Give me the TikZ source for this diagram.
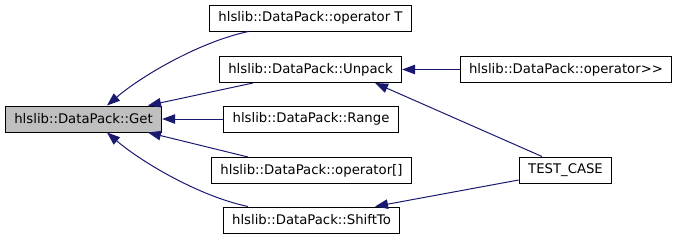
\documentclass[tikz,border=0pt]{standalone}
\usepackage{fontspec}
\setmainfont{DejaVu Sans}
\usepackage{tikz}
\usetikzlibrary{arrows.meta,positioning}
\definecolor{midnightblue}{RGB}{25,25,112}
\definecolor{nodegray}{RGB}{191,191,191}
\tikzset{
  func/.style={
    draw=black,
    fill=white,
    line width=1bp,
    align=center,
    minimum height=26bp,
    inner xsep=9bp,
    font=\fontsize{13.3}{16}\selectfont
  },
  actual/.style={
    func,
    fill=nodegray
  },
  arrow/.style={
    -{Triangle[length=13bp,width=9.5bp]},
    line width=1bp,
    midnightblue
  }
}

\begin{document}
\begin{tikzpicture}[x=1bp,y=-1bp]
\useasboundingbox (0,0) rectangle (676,240);
\node[actual] (get) at (83.5,119) {hlslib::DataPack::Get};
\node[func] (opt) at (310.5,18) {hlslib::DataPack::operator T};
\node[func] (unpack) at (310.5,69.5) {hlslib::DataPack::Unpack};
\node[func] (range) at (311,119) {hlslib::DataPack::Range};
\node[func] (opidx) at (311.5,170.5) {hlslib::DataPack::operator[]};
\node[func] (shift) at (311.5,220) {hlslib::DataPack::ShiftTo};
\node[func] (opshr) at (566,69.5) {hlslib::DataPack::operator>{}>};
\node[func] (test) at (565.5,170) {TEST\_CASE};
\draw[arrow] ([xshift=-62bp]opt.south) .. controls +(-48,10) and +(35,-30) .. ([xshift=23.5bp]get.north);
\draw[arrow] ([xshift=-57.5bp]unpack.south) -- ([xshift=64.5bp]get.north);
\draw[arrow] (range) -- (get);
\draw[arrow] ([xshift=-63.5bp]opidx.north) -- ([xshift=64.5bp]get.south);
\draw[arrow] ([xshift=-63.5bp]shift.north) .. controls +(-48,-10) and +(35,30) .. ([xshift=23.5bp]get.south);
\draw[arrow] (opshr) -- (unpack);
\draw[arrow] ([xshift=-23.5bp]test.north) -- ([xshift=64.5bp]unpack.south);
\draw[arrow] ([yshift=-10bp]test.west) -- ([xshift=63.5bp]shift.north);
\end{tikzpicture}
\end{document}
